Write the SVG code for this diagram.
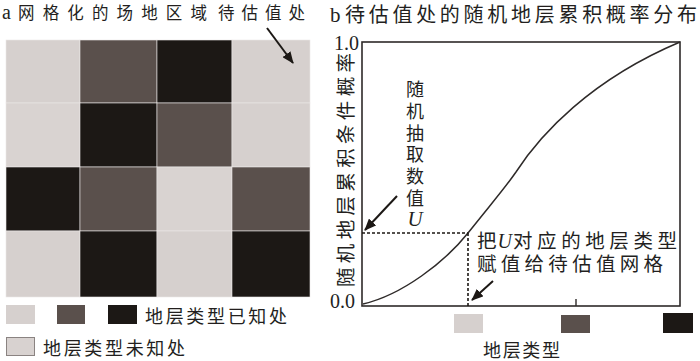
<svg xmlns="http://www.w3.org/2000/svg" width="700" height="361" viewBox="0 0 700 361">
<style>
.cj{font-family:"Noto Sans CJK SC","Liberation Serif",serif;fill:#231f1e}
.lt{font-family:"Liberation Serif","Times New Roman",serif;fill:#231f1e}
.L{fill:#d6d0ce}.D{fill:#5a504c}.B{fill:#1c1815}
.cell{stroke:#ece8e6;stroke-width:0.6}
.dash{fill:none;stroke:#1c1815;stroke-width:1.6;stroke-dasharray:3 2}
.arr{fill:none;stroke:#1c1815;stroke-width:2;marker-end:url(#ah)}
</style>
<defs>
<marker id="ah" viewBox="0 0 12 10" refX="11" refY="5" markerWidth="12" markerHeight="10" markerUnits="userSpaceOnUse" orient="auto">
<path d="M0,0 L12,5 L0,10 Z" fill="#1c1815"/>
</marker>
</defs>
<rect width="700" height="361" fill="#fff"/>

<g id="title-a">
<text class="lt" x="2" y="19" font-size="20">a</text>
<text class="cj" x="18" y="19" font-size="16.5" textLength="189" lengthAdjust="spacing">网格化的场地区域</text>
<text class="cj" x="218" y="19" font-size="16.5" textLength="87" lengthAdjust="spacing">待估值处</text>
</g>

<g id="grid">
<rect class="cell L" x="6" y="40" width="74" height="63"/>
<rect class="cell D" x="80" y="40" width="77" height="63"/>
<rect class="cell B" x="157" y="40" width="75" height="63"/>
<rect class="cell L" x="232" y="40" width="78" height="63"/>
<rect class="cell L" x="6" y="103" width="74" height="64" style="fill:#d9d3d1"/>
<rect class="cell B" x="80" y="103" width="77" height="64"/>
<rect class="cell D" x="157" y="103" width="75" height="64"/>
<rect class="cell L" x="232" y="103" width="78" height="64"/>
<rect class="cell B" x="6" y="167" width="74" height="64"/>
<rect class="cell D" x="80" y="167" width="77" height="64"/>
<rect class="cell L" x="157" y="167" width="75" height="64" style="fill:#d9d3d1"/>
<rect class="cell D" x="232" y="167" width="78" height="64"/>
<rect class="cell L" x="6" y="231" width="74" height="66"/>
<rect class="cell B" x="80" y="231" width="77" height="66"/>
<rect class="cell L" x="157" y="231" width="75" height="66"/>
<rect class="cell B" x="232" y="231" width="78" height="66"/>
</g>

<g id="legend-a">
<rect class="L" x="6" y="305" width="29" height="19"/>
<rect class="D" x="57" y="305" width="28" height="19"/>
<rect class="B" x="108" y="305" width="29" height="19"/>
<text class="cj" x="145" y="323" font-size="18" textLength="142" lengthAdjust="spacing">地层类型已知处</text>
<rect x="6.5" y="337.5" width="28" height="18" fill="#d8d2d0" stroke="#8a8381" stroke-width="1"/>
<text class="cj" x="43" y="355" font-size="18" textLength="142" lengthAdjust="spacing">地层类型未知处</text>
</g>

<g id="title-b">
<text class="lt" x="330" y="22" font-size="21">b</text>
<text class="cj" x="345" y="22" font-size="20" textLength="352" lengthAdjust="spacing">待估值处的随机地层累积概率分布</text>
</g>

<g id="chart">
<rect x="362" y="42" width="318" height="264" fill="none" stroke="#2e2a29" stroke-width="1.6"/>
<line x1="576" y1="299" x2="576" y2="306" stroke="#2e2a29" stroke-width="1.4"/>
<text class="lt" x="334" y="50" font-size="20">1.0</text>
<text class="lt" x="330" y="308" font-size="20">0.0</text>
<text class="cj" transform="translate(353,170) rotate(-90)" text-anchor="middle" font-size="19.5" textLength="234" lengthAdjust="spacing">随机地层累积条件概率</text>
<path d="M363,304 C402,295 445,262 468,233 S505,188 516,172 C540,135 590,80 680,42" fill="none" stroke="#2e2a29" stroke-width="1.5"/>
</g>

<g id="u-label">
<text class="cj" font-size="18" text-anchor="middle">
<tspan x="415" y="96">随</tspan><tspan x="415" y="117.8">机</tspan><tspan x="415" y="139.6">抽</tspan><tspan x="415" y="161.4">取</tspan><tspan x="415" y="183.2">数</tspan><tspan x="415" y="205">值</tspan>
</text>
<text class="lt" x="415" y="226" font-size="21" font-style="italic" text-anchor="middle">U</text>
</g>

<g id="assign-label">
<text class="cj" font-size="19.5"><tspan x="477" y="248">把</tspan><tspan class="lt" x="497.5" y="248" font-size="20" font-style="italic">U</tspan><tspan x="513" y="248" textLength="164" lengthAdjust="spacing">对应的地层类型</tspan><tspan x="477" y="271" textLength="186" lengthAdjust="spacing">赋值给待估值网格</tspan></text>
</g>

<g id="legend-b">
<rect class="L" x="454" y="314" width="29" height="19"/>
<rect class="D" x="561" y="315" width="29" height="18"/>
<rect class="B" x="663" y="313" width="30" height="20"/>
<text class="cj" x="483" y="357" font-size="18" textLength="77" lengthAdjust="spacing">地层类型</text>
</g>

<g id="connectors">
<line class="arr" x1="267" y1="28" x2="293" y2="63"/>
<line class="dash" x1="362" y1="233" x2="468" y2="233"/>
<line class="dash" x1="468" y1="233" x2="468" y2="306"/>
<line class="arr" x1="397" y1="196" x2="365" y2="230"/>
<line class="arr" x1="493" y1="281" x2="472" y2="300"/>
</g>
</svg>
